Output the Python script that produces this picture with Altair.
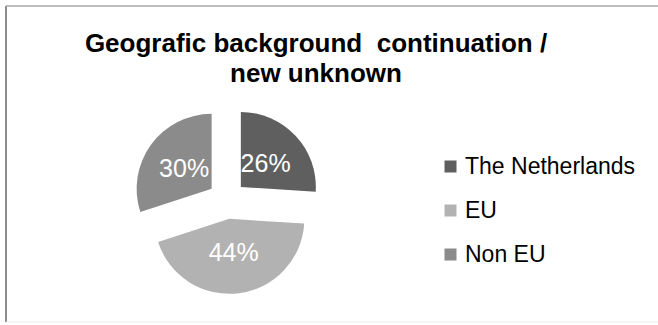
import altair as alt
import pandas as pd

# ---- data ----
categories = ["The Netherlands", "EU", "Non EU"]
shares = [26, 44, 30]
labels = ["26%", "44%", "30%"]
colors = ["#5f5f5f", "#b2b2b2", "#8b8b8b"]
title_lines = ["Geografic background \u00a0continuation /", "new unknown"]

df = pd.DataFrame({
    "category": categories,
    "share": shares,
    "label": labels,
    "order": list(range(len(categories))),
})

# ---- layout / style constants ----
W, H = 652, 316
CX, CY = 221, 194      # pie centre inside the plot area
R = 75                 # pie radius
EXPLODE = 19           # explosion distance
LABEL_R = 34           # label distance from slice apex
FONT = "Liberation Sans"

base = (
    alt.Chart(df)
    .transform_window(cum="sum(share)", sort=[alt.SortField("order")], frame=[None, 0])
    .transform_joinaggregate(total="sum(share)")
    .transform_calculate(
        t1="datum.cum / datum.total * 2 * PI",
        t0="(datum.cum - datum.share) / datum.total * 2 * PI",
    )
    .transform_calculate(mid="(datum.t0 + datum.t1) / 2")
    .transform_calculate(
        px=f"{CX} + {EXPLODE} * sin(datum.mid)",
        py=f"{CY} - {EXPLODE} * cos(datum.mid)",
        lx=f"{CX} + {EXPLODE} * sin(datum.mid) + {LABEL_R} * sin(datum.mid)",
        ly=f"{CY} - {EXPLODE} * cos(datum.mid) - {LABEL_R} * cos(datum.mid)",
    )
)

arcs = base.mark_arc(radius=R, stroke=None).encode(
    theta=alt.Theta("t0:Q", scale=None),
    theta2="t1:Q",
    x=alt.X("px:Q", scale=None, axis=None),
    y=alt.Y("py:Q", scale=None, axis=None),
    color=alt.Color(
        "category:N",
        scale=alt.Scale(domain=categories, range=colors),
        legend=alt.Legend(
            title=None,
            orient="none",
            legendX=433,
            legendY=149,
            symbolType="square",
            symbolSize=144,
            symbolStrokeWidth=0,
            labelFontSize=23,
            labelFont=FONT,
            labelColor="#000000",
            labelOffset=3,
            labelLimit=0,
            rowPadding=20,
            padding=0,
        ),
    ),
)

texts = base.mark_text(
    font=FONT, fontSize=25, color="#ffffff", align="center", baseline="middle"
).encode(
    x=alt.X("lx:Q", scale=None, axis=None),
    y=alt.Y("ly:Q", scale=None, axis=None),
    text="label:N",
)

title = alt.Chart(pd.DataFrame({"t": [title_lines]})).mark_text(
    font=FONT, fontSize=26, fontWeight="bold", color="#000000",
    align="center", baseline="alphabetic", lineHeight=30,
).encode(
    x=alt.value(310), y=alt.value(46), text="t",
)

one = pd.DataFrame({"a": [0]})
left_border = alt.Chart(one).mark_rule(color="#8c8c8c", strokeWidth=2).encode(
    x=alt.value(0), y=alt.value(0), y2=alt.value(H)
)
top_border = alt.Chart(one).mark_rule(color="#a8a8a8", strokeWidth=1.5).encode(
    x=alt.value(0), x2=alt.value(W), y=alt.value(0)
)
bottom_border = alt.Chart(one).mark_rule(color="#ececec", strokeWidth=1).encode(
    x=alt.value(0), x2=alt.value(W), y=alt.value(H)
)

chart = (
    alt.layer(left_border, top_border, bottom_border, arcs, texts, title)
    .properties(
        width=W,
        height=H,
        autosize=alt.AutoSizeParams(type="none"),
        padding={"left": 6, "top": 6, "right": 0, "bottom": 3},
        background="#ffffff",
    )
    .configure_view(stroke=None)
)

chart.save("out.html", embed_options={"renderer": "svg", "actions": False})
